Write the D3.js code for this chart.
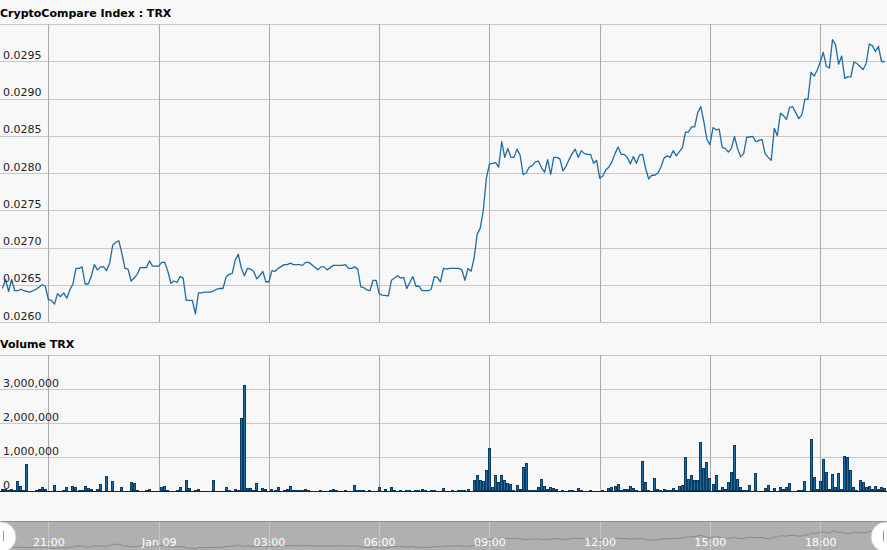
<!DOCTYPE html>
<html><head><meta charset="utf-8">
<script src="https://cdn.jsdelivr.net/npm/d3@7/dist/d3.min.js"></script>
<style>
html,body{margin:0;padding:0;background:#f8f8f8;}
svg{display:block;font-family:"DejaVu Sans",Verdana,sans-serif;}
</style>
</head><body>
<svg id="c" width="887" height="550"></svg>
<script>
// ---------- data ----------
const chartTitle = "CryptoCompare Index : TRX";
const volumeTitle = "Volume TRX";
const startTime = Date.UTC(2019, 0, 8, 19, 45); // first 5-minute point
const stepMinutes = 5;

// price points: index of 5-minute step, and price
const priceSteps = [0,1,2,3,4,5,6,7,9,11,12,13,14,15,16,17,18,19,20,21,22,23,24,25,26,27,28,29,30,31,32,33,34,35,36,37,38,39,40,41,42,43,44,45,47,48,49,51,52,53,54,55,56,57,58,59,60,62,63,64,65,66,68,70,71,72,73,74,75,76,77,78,79,80,81,82,83,84,85,86,87,88,89,90,92,93,94,95,96,97,98,99,100,101,103,104,105,106,107,108,111,112,113,114,115,116,117,118,119,120,121,122,123,124,126,127,128,129,130,131,132,133,134,135,136,137,139,140,141,142,143,144,145,146,147,148,149,150,151,152,153,154,155,156,157,158,159,160,161,162,163,164,165,166,167,168,169,170,171,172,173,174,175,176,177,178,179,180,181,182,183,184,185,186,187,188,189,190,191,192,193,194,195,196,197,198,199,200,201,202,203,204,205,206,207,208,209,210,211,212,213,214,215,216,217,218,219,220,222,223,224,225,226,227,228,229,230,231,232,233,234,235,236,237,238,239,240,241,242,243,245,246,248,249,250,251,252,253,254,255,256,257,258,259,260,261,262,263,264,265,266,267,268,269,270,271,272,273,274,275,276,277,278,279,280,281,282,283,284,285,286,287,288];
const priceValues = [0.02645,0.02657,0.02641,0.02657,0.02642,0.02642,0.02644,0.02642,0.02640,0.02644,0.02647,0.02650,0.02648,0.02630,0.02629,0.02624,0.02638,0.02634,0.02639,0.02632,0.02643,0.02651,0.02672,0.02672,0.02674,0.02651,0.02651,0.02661,0.02677,0.02670,0.02674,0.02674,0.02669,0.02679,0.02703,0.02707,0.02709,0.02692,0.02672,0.02671,0.02655,0.02659,0.02664,0.02673,0.02673,0.02682,0.02675,0.02675,0.02680,0.02680,0.02668,0.02652,0.02655,0.02653,0.02661,0.02659,0.02629,0.02629,0.02611,0.02639,0.02639,0.02640,0.02640,0.02644,0.02645,0.02645,0.02660,0.02664,0.02665,0.02683,0.02691,0.02672,0.02662,0.02672,0.02671,0.02668,0.02658,0.02662,0.02668,0.02654,0.02654,0.02669,0.02668,0.02672,0.02677,0.02677,0.02679,0.02677,0.02677,0.02677,0.02676,0.02680,0.02680,0.02677,0.02670,0.02674,0.02674,0.02670,0.02673,0.02676,0.02676,0.02677,0.02672,0.02672,0.02674,0.02671,0.02647,0.02646,0.02643,0.02642,0.02656,0.02656,0.02638,0.02636,0.02635,0.02656,0.02659,0.02662,0.02659,0.02660,0.02645,0.02653,0.02661,0.02648,0.02648,0.02642,0.02642,0.02644,0.02661,0.02660,0.02654,0.02672,0.02671,0.02672,0.02672,0.02672,0.02672,0.02670,0.02656,0.02672,0.02668,0.02686,0.02718,0.02726,0.02750,0.02793,0.02812,0.02813,0.02814,0.02808,0.02842,0.02821,0.02833,0.02821,0.02821,0.02832,0.02824,0.02798,0.02800,0.02808,0.02810,0.02815,0.02816,0.02807,0.02801,0.02818,0.02798,0.02821,0.02821,0.02819,0.02803,0.02809,0.02818,0.02826,0.02832,0.02821,0.02830,0.02826,0.02825,0.02825,0.02813,0.02817,0.02793,0.02796,0.02804,0.02808,0.02815,0.02826,0.02835,0.02825,0.02825,0.02821,0.02812,0.02822,0.02813,0.02824,0.02825,0.02806,0.02792,0.02797,0.02797,0.02800,0.02808,0.02820,0.02823,0.02821,0.02830,0.02823,0.02834,0.02855,0.02855,0.02862,0.02862,0.02881,0.02889,0.02869,0.02845,0.02838,0.02861,0.02858,0.02859,0.02834,0.02833,0.02828,0.02833,0.02849,0.02833,0.02822,0.02826,0.02848,0.02849,0.02842,0.02845,0.02826,0.02821,0.02817,0.02860,0.02850,0.02880,0.02877,0.02872,0.02888,0.02889,0.02881,0.02873,0.02878,0.02899,0.02899,0.02935,0.02930,0.02938,0.02949,0.02962,0.02943,0.02941,0.02979,0.02972,0.02946,0.02957,0.02927,0.02929,0.02929,0.02949,0.02947,0.02943,0.02939,0.02947,0.02973,0.02971,0.02963,0.02970,0.02950,0.02949];

// volume per 5-minute step (TRX)
const volumeValues = [
70000,70000,40000,50000,40000,300000,155000,40000,800000,0,
0,30000,70000,130000,70000,0,0,185000,0,0,
30000,110000,0,160000,130000,40000,40000,160000,100000,70000,
0,70000,215000,0,450000,0,300000,0,0,110000,
0,0,275000,245000,40000,0,0,40000,70000,0,
0,0,130000,150000,40000,0,0,40000,110000,0,
333000,100000,0,40000,70000,0,0,0,0,333000,
0,0,0,130000,40000,0,70000,40000,2160000,3130000,
100000,100000,40000,245000,0,100000,70000,0,70000,40000,
130000,0,40000,70000,160000,40000,40000,40000,40000,70000,
40000,0,0,0,40000,0,0,40000,70000,40000,
0,0,40000,0,0,175000,40000,40000,40000,0,
40000,0,0,130000,0,60000,0,130000,40000,0,
40000,0,40000,40000,0,40000,40000,70000,40000,0,
40000,40000,0,0,100000,0,0,40000,0,40000,
40000,40000,70000,0,333000,470000,323000,294000,627000,1270000,
130000,470000,275000,470000,323000,225000,196000,40000,186000,70000,
715000,823000,40000,40000,40000,130000,363000,157000,70000,130000,
100000,70000,0,40000,0,40000,40000,0,100000,40000,
0,0,40000,0,0,0,40000,0,100000,130000,
157000,215000,40000,70000,70000,157000,100000,40000,0,882000,
275000,30000,0,392000,60000,40000,60000,40000,40000,100000,
40000,157000,186000,1000000,363000,480000,323000,323000,1440000,676000,
853000,392000,215000,470000,30000,130000,60000,275000,570000,1360000,
363000,130000,30000,40000,186000,0,530000,0,0,100000,
186000,0,100000,0,130000,60000,130000,235000,0,0,
40000,40000,304000,0,1540000,421000,60000,304000,950000,570000,
60000,510000,130000,540000,60000,1040000,990000,618000,130000,30000,
333000,275000,130000,157000,70000,157000,70000,130000,100000
];

const priceTicks = [0.0260,0.0265,0.0270,0.0275,0.0280,0.0285,0.0290,0.0295,0.0300];
const priceTickLabels = ["0.0260","0.0265","0.0270","0.0275","0.0280","0.0285","0.0290","0.0295",""];
const volumeTicks = [0,1000000,2000000,3000000,4000000];
const volumeTickLabels = ["0","1,000,000","2,000,000","3,000,000",""];

// ---------- layout ----------
const W = 887;
const svg = d3.select("#c");
const timeOf = i => new Date(startTime + i * stepMinutes * 60000);
const lastStep = volumeValues.length - 1;
const x = d3.scaleUtc()
  .domain([new Date(startTime - 4 * 60000), new Date(startTime + lastStep * stepMinutes * 60000 + 4 * 60000)])
  .range([0, W]);
const yP = d3.scaleLinear().domain([0.026, 0.030]).range([322, 24]);
const yV = d3.scaleLinear().domain([0, 4000000]).range([491, 355]);
const timeTicks = x.ticks(d3.utcHour.every(3));
const fmtTime = d => d.getUTCHours() === 0 ? d3.utcFormat("%b %d")(d) : d3.utcFormat("%H:%M")(d);

const hGrid = "#c8c8c8", vGrid = "#a9a9a9";

// titles
svg.append("text").attr("x", 0).attr("y", 17).attr("font-size", 11).attr("font-weight", "bold").attr("fill", "#000").text(chartTitle);
svg.append("text").attr("x", 0).attr("y", 348).attr("font-size", 11).attr("font-weight", "bold").attr("fill", "#000").text(volumeTitle);

// ----- price panel -----
const gP = svg.append("g");
// horizontal grid via axis
const gpGrid = gP.append("g").attr("transform", "translate(0,0)")
  .call(d3.axisRight(yP).tickValues(priceTicks).tickSize(W).tickFormat(""));
gpGrid.select(".domain").remove();
gpGrid.selectAll("line").attr("stroke", hGrid).attr("shape-rendering", "crispEdges");
// vertical grid
const gpv = gP.append("g").attr("transform", "translate(0,322)")
  .call(d3.axisBottom(x).tickValues(timeTicks).tickSize(-298).tickFormat(""));
gpv.select(".domain").remove();
gpv.selectAll("line").attr("stroke", vGrid).attr("shape-rendering", "crispEdges");

// price line
const line = d3.line()
  .x((d, k) => x(timeOf(priceSteps[k])))
  .y(d => yP(d));
gP.append("path").datum(priceValues)
  .attr("fill", "none").attr("stroke", "#1f6aa5").attr("stroke-width", 1.3)
  .attr("stroke-linejoin", "round").attr("d", line);

// price labels
const gpl = gP.append("g").call(d3.axisRight(yP).tickValues(priceTicks).tickSize(0).tickFormat((d, i) => priceTickLabels[i]));
gpl.select(".domain").remove();
gpl.selectAll("text").attr("x", 3).attr("dy", "-3px").attr("font-size", 11).attr("font-family", "DejaVu Sans, Verdana, sans-serif").attr("fill", "#222").attr("text-anchor", "start");

// ----- volume panel -----
const gV = svg.append("g");
const gvGrid = gV.append("g").call(d3.axisRight(yV).tickValues(volumeTicks).tickSize(W).tickFormat(""));
gvGrid.select(".domain").remove();
gvGrid.selectAll("line").attr("stroke", hGrid).attr("shape-rendering", "crispEdges");
const gvv = gV.append("g").attr("transform", "translate(0,491)")
  .call(d3.axisBottom(x).tickValues(timeTicks).tickSize(-136).tickFormat(""));
gvv.select(".domain").remove();
gvv.selectAll("line").attr("stroke", vGrid).attr("shape-rendering", "crispEdges");

gV.append("g").selectAll("rect").data(volumeValues.map((v, i) => ({ v, i })).filter(d => d.v > 0))
  .join("rect")
  .attr("x", d => Math.round(x(timeOf(d.i)) - 1.5) + 0.5)
  .attr("y", d => Math.min(Math.round(yV(d.v)), 490) + 0.5)
  .attr("width", 2)
  .attr("height", d => 491 - Math.min(Math.round(yV(d.v)), 490) - 0.5)
  .attr("fill", "#1a6aa3").attr("stroke", "#0c3c63").attr("stroke-width", 1);

gV.append("line").attr("x1", 0).attr("x2", W).attr("y1", 491.5).attr("y2", 491.5).attr("stroke", "#222");

const gvl = gV.append("g").call(d3.axisRight(yV).tickValues(volumeTicks).tickSize(0).tickFormat((d, i) => volumeTickLabels[i]));
gvl.select(".domain").remove();
gvl.selectAll("text").attr("x", 3).attr("dy", "-3px").attr("font-size", 11).attr("font-family", "DejaVu Sans, Verdana, sans-serif").attr("fill", "#222").attr("text-anchor", "start");

// ----- navigator -----
const gN = svg.append("g");
gN.append("rect").attr("x", 0).attr("y", 521).attr("width", W).attr("height", 29).attr("fill", "#b0b0b0");
gN.append("line").attr("x1", 0).attr("x2", W).attr("y1", 521.5).attr("y2", 521.5).attr("stroke", "#8f8f8f");
const gnv = gN.append("g").attr("transform", "translate(0,550)")
  .call(d3.axisBottom(x).tickValues(timeTicks).tickSize(-28).tickFormat(""));
gnv.select(".domain").remove();
gnv.selectAll("line").attr("stroke", "#c6c6c6").attr("shape-rendering", "crispEdges");
const yN = d3.scaleLinear().domain(d3.extent(priceValues)).range([549, 531]);
gN.append("path").datum(priceValues)
  .attr("fill", "none").attr("stroke", "#8a8a8a").attr("stroke-width", 1)
  .attr("d", d3.line().x((d, k) => x(timeOf(priceSteps[k]))).y(d => yN(d)));
const gnl = gN.append("g").attr("transform", "translate(0,546)")
  .call(d3.axisBottom(x).tickValues(timeTicks).tickSize(0).tickPadding(0).tickFormat(fmtTime));
gnl.select(".domain").remove();
gnl.selectAll("text").attr("y", 0).attr("dy", 0).attr("font-size", 11).attr("font-family", "DejaVu Sans, Verdana, sans-serif").attr("fill", "#fff");
// handles
[[1, 537], [886, 537]].forEach(([cx, cy]) => {
  gN.append("circle").attr("cx", cx).attr("cy", cy).attr("r", 15).attr("fill", "#fff").attr("stroke", "#cfcfcf");
});
gN.append("line").attr("x1", 3.5).attr("x2", 3.5).attr("y1", 531).attr("y2", 541).attr("stroke", "#999");
gN.append("line").attr("x1", 883.5).attr("x2", 883.5).attr("y1", 531).attr("y2", 541).attr("stroke", "#999");
</script>
</body></html>
